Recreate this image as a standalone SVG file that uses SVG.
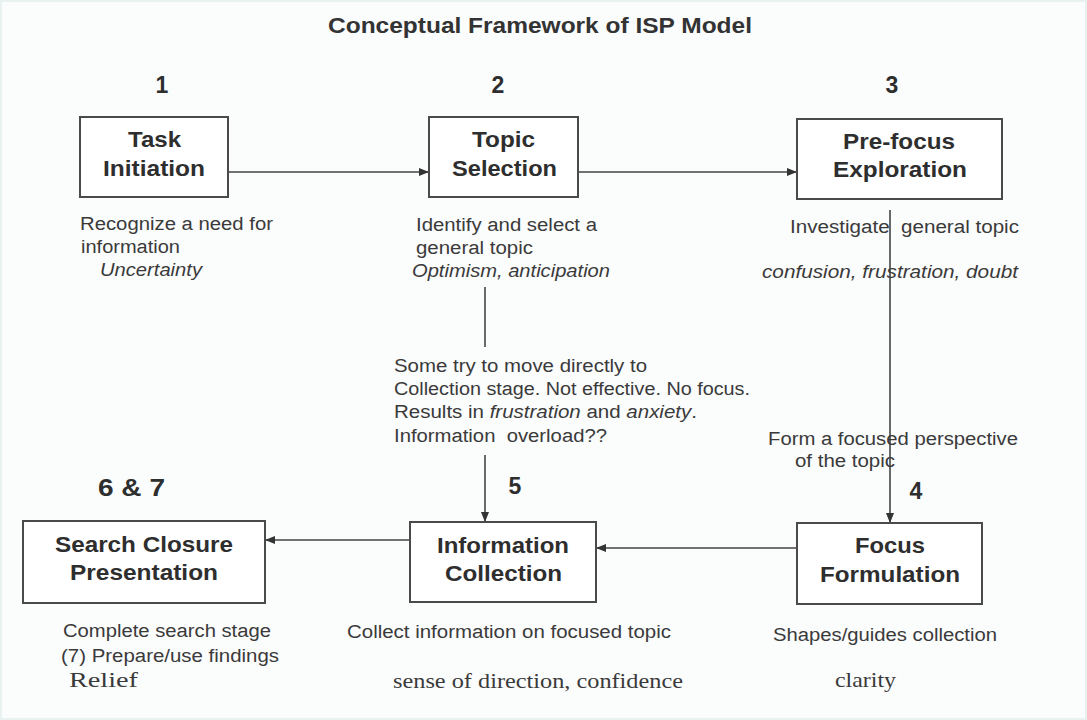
<svg xmlns="http://www.w3.org/2000/svg" width="1087" height="720" viewBox="0 0 1087 720">
<style>
.bg{fill:#fbfcfc;stroke:#e8f0f0;stroke-width:2}
.box{fill:#ffffff;stroke:#4a4a4a;stroke-width:2}
.lbl{font-family:"Liberation Sans",Arial,sans-serif;font-weight:bold;font-size:22px;fill:#2e2e2e;text-anchor:start}
.num{font-family:"Liberation Sans",Arial,sans-serif;font-weight:bold;font-size:23px;fill:#2e2e2e}
.ttl{font-family:"Liberation Sans",Arial,sans-serif;font-weight:bold;font-size:22px;fill:#333333}
.txt{font-family:"Liberation Sans",Arial,sans-serif;font-size:18px;fill:#3a3a3a}
.it{font-style:italic}
.ser{font-family:"Liberation Serif","Times New Roman",serif;font-size:21px;fill:#3a3a3a}
.con{stroke:#444444;stroke-width:1.6;fill:none}
</style>
<defs>
<marker id="arr" viewBox="0 0 10 8" refX="10" refY="4" markerWidth="10" markerHeight="8" markerUnits="userSpaceOnUse" orient="auto">
<path d="M0,0 L10,4 L0,8 Z" fill="#333333"/>
</marker>
</defs>
<rect class="bg" x="1" y="1" width="1085" height="718"/>
<text class="ttl" x="328" y="33" textLength="424" lengthAdjust="spacingAndGlyphs">Conceptual Framework of ISP Model</text>

<g id="connectors">
<line class="con" x1="228" y1="172" x2="429" y2="172" marker-end="url(#arr)"/>
<line class="con" x1="578" y1="172" x2="797" y2="172" marker-end="url(#arr)"/>
<line class="con" x1="890" y1="210" x2="890" y2="523" marker-end="url(#arr)"/>
<line class="con" x1="797" y1="548" x2="596" y2="548" marker-end="url(#arr)"/>
<line class="con" x1="410" y1="540" x2="265" y2="540" marker-end="url(#arr)"/>
<line class="con" x1="485" y1="287" x2="485" y2="347"/>
<line class="con" x1="485" y1="455" x2="485" y2="522" marker-end="url(#arr)"/>
</g>

<g id="node-1">
<text class="num" x="162" y="93" text-anchor="middle">1</text>
<rect class="box" x="80" y="117" width="148" height="80"/>
<text class="lbl" x="128" y="147" textLength="53" lengthAdjust="spacingAndGlyphs">Task</text>
<text class="lbl" x="103" y="176" textLength="102" lengthAdjust="spacingAndGlyphs">Initiation</text>
<text class="txt" x="80" y="230" textLength="193" lengthAdjust="spacingAndGlyphs">Recognize a need for</text>
<text class="txt" x="81" y="253" textLength="99" lengthAdjust="spacingAndGlyphs">information</text>
<text class="txt it" x="100" y="276" textLength="102" lengthAdjust="spacingAndGlyphs">Uncertainty</text>
</g>

<g id="node-2">
<text class="num" x="498" y="93" text-anchor="middle">2</text>
<rect class="box" x="429" y="117" width="149" height="80"/>
<text class="lbl" x="472" y="147" textLength="63" lengthAdjust="spacingAndGlyphs">Topic</text>
<text class="lbl" x="452" y="176" textLength="105" lengthAdjust="spacingAndGlyphs">Selection</text>
<text class="txt" x="416" y="231" textLength="181" lengthAdjust="spacingAndGlyphs">Identify and select a</text>
<text class="txt" x="416" y="254" textLength="117" lengthAdjust="spacingAndGlyphs">general topic</text>
<text class="txt it" x="412" y="277" textLength="198" lengthAdjust="spacingAndGlyphs">Optimism, anticipation</text>
</g>

<g id="node-3">
<text class="num" x="892" y="93" text-anchor="middle">3</text>
<rect class="box" x="797" y="119" width="205" height="80"/>
<text class="lbl" x="843" y="149" textLength="112" lengthAdjust="spacingAndGlyphs">Pre-focus</text>
<text class="lbl" x="833" y="177" textLength="134" lengthAdjust="spacingAndGlyphs">Exploration</text>
<text class="txt" x="790" y="233" textLength="229" lengthAdjust="spacingAndGlyphs" xml:space="preserve">Investigate  general topic</text>
<text class="txt it" x="762" y="278" textLength="256" lengthAdjust="spacingAndGlyphs">confusion, frustration, doubt</text>
</g>

<g id="note-direct">
<text class="txt" x="394" y="372" textLength="253" lengthAdjust="spacingAndGlyphs">Some try to move directly to</text>
<text class="txt" x="394" y="395" textLength="356" lengthAdjust="spacingAndGlyphs">Collection stage. Not effective. No focus.</text>
<text class="txt" x="394" y="418" textLength="303" lengthAdjust="spacingAndGlyphs">Results in <tspan class="it">frustration</tspan> and <tspan class="it">anxiety</tspan>.</text>
<text class="txt" x="394" y="442" textLength="213" lengthAdjust="spacingAndGlyphs" xml:space="preserve">Information  overload??</text>
</g>

<g id="note-focus">
<text class="txt" x="768" y="445" textLength="250" lengthAdjust="spacingAndGlyphs">Form a focused perspective</text>
<text class="txt" x="795" y="467" textLength="100" lengthAdjust="spacingAndGlyphs">of the topic</text>
</g>

<g id="node-4">
<text class="num" x="916" y="499" text-anchor="middle">4</text>
<rect class="box" x="797" y="523" width="185" height="81"/>
<text class="lbl" x="855" y="553" textLength="70" lengthAdjust="spacingAndGlyphs">Focus</text>
<text class="lbl" x="820" y="582" textLength="140" lengthAdjust="spacingAndGlyphs">Formulation</text>
<text class="txt" x="773" y="641" textLength="224" lengthAdjust="spacingAndGlyphs">Shapes/guides collection</text>
<text class="ser" x="835" y="687" textLength="61" lengthAdjust="spacingAndGlyphs">clarity</text>
</g>

<g id="node-5">
<text class="num" x="515" y="494" text-anchor="middle">5</text>
<rect class="box" x="410" y="522" width="186" height="80"/>
<text class="lbl" x="437" y="553" textLength="132" lengthAdjust="spacingAndGlyphs">Information</text>
<text class="lbl" x="445" y="581" textLength="117" lengthAdjust="spacingAndGlyphs">Collection</text>
<text class="txt" x="347" y="638" textLength="324" lengthAdjust="spacingAndGlyphs">Collect information on focused topic</text>
<text class="ser" x="393" y="688" textLength="290" lengthAdjust="spacingAndGlyphs">sense of direction, confidence</text>
</g>

<g id="node-6-7">
<text class="num" x="98" y="496" textLength="67" lengthAdjust="spacingAndGlyphs">6 &amp; 7</text>
<rect class="box" x="23" y="521" width="242" height="82"/>
<text class="lbl" x="55" y="552" textLength="178" lengthAdjust="spacingAndGlyphs">Search Closure</text>
<text class="lbl" x="70" y="580" textLength="148" lengthAdjust="spacingAndGlyphs">Presentation</text>
<text class="txt" x="63" y="637" textLength="208" lengthAdjust="spacingAndGlyphs">Complete search stage</text>
<text class="txt" x="61" y="662" textLength="218" lengthAdjust="spacingAndGlyphs">(7) Prepare/use findings</text>
<text class="ser" x="69" y="687" textLength="69" lengthAdjust="spacingAndGlyphs">Relief</text>
</g>
</svg>
